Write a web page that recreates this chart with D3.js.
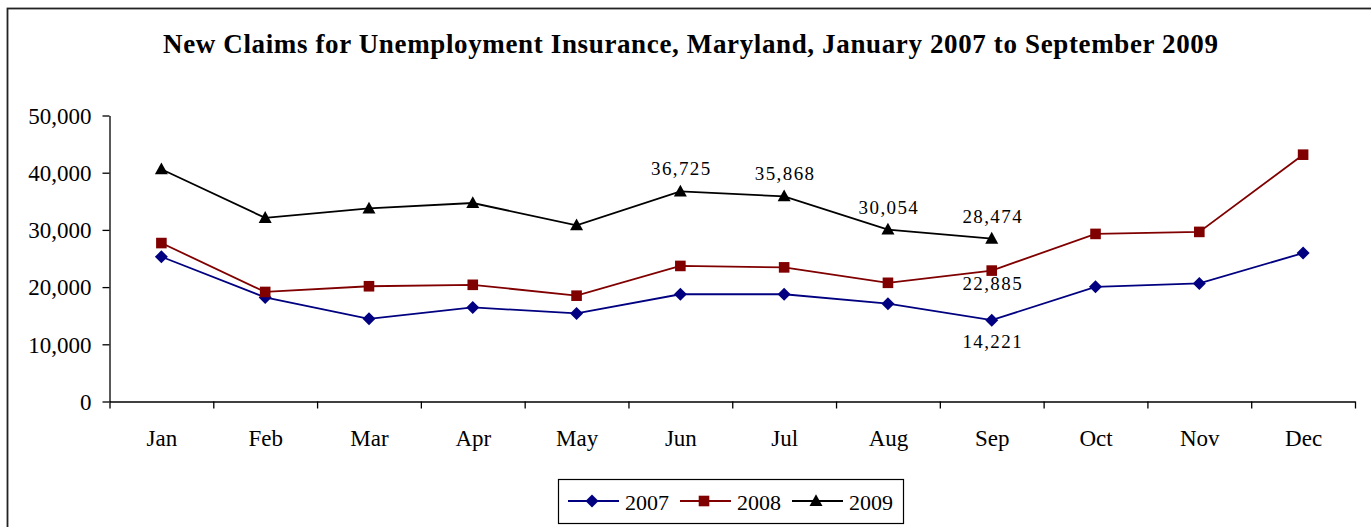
<!DOCTYPE html>
<html>
<head>
<meta charset="utf-8">
<script src="https://cdn.jsdelivr.net/npm/d3@7"></script>
<style>
  body { margin: 0; background: #fff; }
  svg { display: block; font-family: "Liberation Serif", "Times New Roman", serif; }
  .axis path, .axis line { stroke: #000; stroke-width: 1.3; }
  .axis text { fill: #000; font-family: "Liberation Serif", "Times New Roman", serif; }
</style>
</head>
<body>
<svg id="chart" width="1371" height="527"></svg>
<script>
// chart data
var months = ['Jan', 'Feb', 'Mar', 'Apr', 'May', 'Jun', 'Jul', 'Aug', 'Sep', 'Oct', 'Nov', 'Dec'];
var years = ['2007', '2008', '2009'];
var claims2007 = [25300, 18200, 14450, 16450, 15400, 18750, 18750, 17100, 14221, 20050, 20650, 25950];
var claims2008 = [27700, 19150, 20150, 20400, 18500, 23700, 23450, 20750, 22885, 29300, 29650, 43150];
var claims2009 = [40600, 32100, 33750, 34700, 30800, 36725, 35868, 30054, 28474];
var yTicks = [0, 10000, 20000, 30000, 40000, 50000];
// points that carry a value label
var labelled = [
    {year: '2009', month: 'Jun'}, {year: '2009', month: 'Jul'},
    {year: '2009', month: 'Aug'}, {year: '2009', month: 'Sep'},
    {year: '2008', month: 'Sep'}, {year: '2007', month: 'Sep'}
];

var seriesValues = {'2007': claims2007, '2008': claims2008, '2009': claims2009};
var colors = {'2007': '#000080', '2008': '#800000', '2009': '#000000'};
var shapes = {'2007': 'diamond', '2008': 'square', '2009': 'triangle'};
// label offsets relative to the point (dy of the baseline)
var labelDy = {'2009': -16, '2008': 19, '2007': 28};

var svg = d3.select('#chart');
var fmt = d3.format(',');

var plotLeft = 109.5, plotRight = 1355, plotTop = 115.5, plotBottom = 401.5;

var x = d3.scaleLinear().domain([0, months.length]).range([plotLeft, plotRight]);
var y = d3.scaleLinear().domain([0, 50000]).range([plotBottom, plotTop]);

// outer frame (runs off the right and bottom edges)
svg.append('rect')
    .attr('x', 7.5).attr('y', 8.5)
    .attr('width', 1400).attr('height', 600)
    .attr('fill', 'none').attr('stroke', '#222').attr('stroke-width', 1.8);

// title
svg.append('text')
    .attr('x', 163).attr('y', 53)
    .attr('textLength', 1055).attr('lengthAdjust', 'spacing')
    .style('font-size', '27px').style('font-weight', 'bold')
    .text('New Claims for Unemployment Insurance, Maryland, January 2007 to September 2009');

// y axis
var gy = svg.append('g').attr('class', 'axis')
    .attr('transform', 'translate(' + plotLeft + ',0)')
    .call(d3.axisLeft(y).tickValues(yTicks).tickFormat(fmt).tickSize(7).tickPadding(11).tickSizeOuter(0));
gy.selectAll('text').style('font-size', '23px').attr('dy', '0.34em');

// x axis: ticks on category boundaries, labels at centres
var gx = svg.append('g').attr('class', 'axis')
    .attr('transform', 'translate(0,' + plotBottom + ')')
    .call(d3.axisBottom(x).tickValues(d3.range(months.length + 1)).tickFormat('').tickSize(7).tickSizeOuter(0));

var gxl = svg.append('g').attr('class', 'axis')
    .attr('transform', 'translate(0,' + plotBottom + ')')
    .call(d3.axisBottom(x)
        .tickValues(d3.range(months.length).map(function (i) { return i + 0.5; }))
        .tickFormat(function (d) { return months[Math.floor(d)]; })
        .tickSize(0).tickPadding(0));
gxl.select('path').remove();
gxl.selectAll('text').style('font-size', '23px').attr('dy', null).attr('y', 44.5);

function cx(i) { return x(i + 0.5); }

function marker(g, shape, color) {
    if (shape === 'diamond') {
        g.append('path').attr('d', 'M0,-6.5L6.5,0L0,6.5L-6.5,0Z').attr('fill', color);
    } else if (shape === 'square') {
        g.append('rect').attr('x', -5.3).attr('y', -5.3).attr('width', 10.6).attr('height', 10.6).attr('fill', color);
    } else {
        g.append('path').attr('d', 'M0,-6.8L6.5,5L-6.5,5Z').attr('fill', color);
    }
}

var line = d3.line()
    .x(function (d, i) { return cx(i); })
    .y(function (d) { return y(d); });

years.forEach(function (yr) {
    var vals = seriesValues[yr];
    svg.append('path')
        .datum(vals)
        .attr('d', line)
        .attr('fill', 'none')
        .attr('stroke', colors[yr])
        .attr('stroke-width', 1.8);
    svg.selectAll('g.pt-' + yr).data(vals).enter().append('g')
        .attr('class', 'pt-' + yr)
        .attr('transform', function (d, i) { return 'translate(' + cx(i) + ',' + y(d) + ')'; })
        .each(function () { marker(d3.select(this), shapes[yr], colors[yr]); });
});

// value labels
svg.selectAll('text.vlabel').data(labelled).enter().append('text')
    .attr('class', 'vlabel')
    .attr('x', function (d) { return cx(months.indexOf(d.month)) + 1; })
    .attr('y', function (d) { return y(seriesValues[d.year][months.indexOf(d.month)]) + labelDy[d.year]; })
    .attr('text-anchor', 'middle')
    .style('font-size', '19px').style('letter-spacing', '1.4px')
    .text(function (d) { return fmt(seriesValues[d.year][months.indexOf(d.month)]); });

// legend
var lg = svg.append('g').attr('transform', 'translate(558.5,479.5)');
lg.append('rect').attr('width', 345).attr('height', 44)
    .attr('fill', '#fff').attr('stroke', '#000').attr('stroke-width', 1.2);
var items = lg.selectAll('g.item').data(years).enter().append('g')
    .attr('class', 'item')
    .attr('transform', function (d, i) { return 'translate(' + (9.5 + i * 112) + ',21.5)'; });
items.append('line').attr('x1', 0).attr('x2', 51)
    .attr('stroke', function (d) { return colors[d]; }).attr('stroke-width', 1.8);
items.each(function (d) {
    var m = d3.select(this).append('g').attr('transform', 'translate(24,0)');
    marker(m, shapes[d], colors[d]);
});
items.append('text').attr('x', 57).attr('y', 8.5)
    .style('font-size', '22px')
    .text(function (d) { return d; });
</script>
</body>
</html>
